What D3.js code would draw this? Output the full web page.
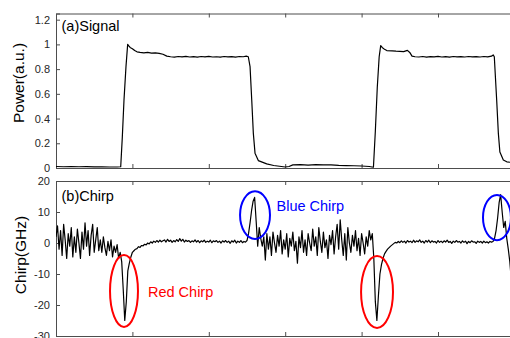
<!DOCTYPE html>
<html><head><meta charset="utf-8">
<script src="https://cdn.jsdelivr.net/npm/d3@7"></script>
<style>html,body{margin:0;padding:0;background:#fff;overflow:hidden}svg{display:block}</style>
</head><body>
<svg id="c" width="510" height="338"></svg>
<script>
// ---------- data ----------
const xTicks = [0, 1, 2, 3, 4, 5, 6];
const powerTicks = [0, 0.2, 0.4, 0.6, 0.8, 1, 1.2];
const powerTickLabels = ["0", "0.2", "0.4", "0.6", "0.8", "1", "1.2"];
const chirpTicks = [-30, -20, -10, 0, 10, 20];
const chirpTickLabels = ["-30", "-20", "-10", "0", "10", "20"];

const signalTime = [0,0.1,0.2,0.3,0.4,0.5,0.6,0.7,0.8,0.847,0.868,0.89,0.916,0.938,0.95,0.97,1.0,1.03,1.06,1.1,1.15,1.2,1.25,1.3,1.35,1.4,1.45,1.5,1.55,1.6,1.65,1.7,1.75,1.8,1.85,1.9,1.95,2.0,2.05,2.1,2.15,2.2,2.25,2.3,2.35,2.4,2.45,2.49,2.517,2.54,2.562,2.583,2.605,2.648,2.758,2.85,2.95,3.0,3.05,3.1,3.2,3.3,3.4,3.5,3.6,3.7,3.8,3.9,4.0,4.1,4.155,4.18,4.205,4.23,4.25,4.27,4.3,4.33,4.4,4.45,4.5,4.55,4.6,4.63,4.66,4.7,4.75,4.8,4.85,4.9,4.95,5.0,5.05,5.1,5.15,5.2,5.25,5.3,5.35,5.4,5.45,5.5,5.55,5.6,5.65,5.7,5.722,5.737,5.768,5.79,5.81,5.855,5.9,5.95,6.0];
const signalPower = [0.012,0.01,0.012,0.01,0.011,0.009,0.01,0.008,0.008,0.01,0.25,0.55,0.82,1.0,0.99,0.975,0.965,0.95,0.94,0.935,0.932,0.935,0.93,0.932,0.928,0.92,0.905,0.9,0.897,0.902,0.899,0.903,0.898,0.901,0.897,0.902,0.899,0.903,0.898,0.9,0.897,0.902,0.899,0.901,0.897,0.902,0.9,0.905,0.9,0.82,0.55,0.28,0.12,0.06,0.033,0.02,0.012,0.008,0.012,0.025,0.027,0.024,0.027,0.025,0.026,0.022,0.02,0.018,0.016,0.012,0.006,0.3,0.65,0.9,0.99,0.975,0.96,0.95,0.947,0.945,0.944,0.942,0.952,0.935,0.905,0.9,0.898,0.902,0.897,0.901,0.899,0.903,0.898,0.901,0.897,0.902,0.899,0.901,0.898,0.902,0.899,0.901,0.898,0.902,0.899,0.905,0.915,0.9,0.55,0.28,0.13,0.065,0.05,0.046,0.044];

const chirpStep = 0.02;
const chirpValues = [
  2,5.5,-2,4,-4,6,1,-5,3,-1,
  5,-4.5,2,-3,4.5,0,-5,3.5,-2,6.5,
  -1,4,-4,2.5,6,-3,1,5,-2.5,1,
  -3,2,-1.5,-4,0.5,-2.5,1,-4.5,-1,-3,
  -0.5,-5,-3,-6,-15,-25,-19,-9,-6.5,-4.5,
  -3,-2.5,-2,-1.8,-1.2,-1.4,-0.8,-0.9,-0.4,-0.6,
  0,-0.3,0.4,0,0.6,0.2,0.8,0.3,0.9,0.4,
  0.7,1.0,0.3,1.2,0.5,0.9,0.2,0.8,0.4,1.1,
  0.5,1.4,0.6,1.2,0.3,0.9,0.5,0.8,0.2,0.7,
  0.4,1.0,0.3,0.8,0.1,0.7,0.4,0.9,0.2,0.6,
  0.3,0.9,0.1,0.7,0.4,0.8,0.2,0.6,0.0,0.7,
  0.3,0.8,0.2,0.6,-0.1,0.7,0.3,0.9,0.0,0.6,
  0.2,0.8,0.1,0.5,0.3,0.8,3,6.5,10.5,13.5,
  14.7,7,-1,5,1.5,-1,2,-5.5,3,-2,
  2,-4,3.5,0,-3,2.5,-1,4,-3.5,1,
  -2,3,-4.5,1.5,-1,3.5,-2.5,0.5,-6.5,2,
  -1.5,4,-3,1,-4,3,0,-2.5,4.5,-1,
  2,-4,5,0.5,-3,3.5,-1.5,1,-5,2.5,
  -0.5,4,-3.5,2,6,-2,7.5,1,-4,3,
  -5.5,5,0,-3,2.5,-1,4,-2.5,1.5,-4,
  3,0,-3.5,2,-1,4,1,3,-5,-19,
  -25,-17,-10,-7,-5,-3.5,-2.7,-2,-1.5,-1,
  -0.6,-0.2,0.2,0,0.5,0.1,0.7,0.2,0.6,0.0,
  0.8,0.3,0.6,0.1,0.9,0.2,0.7,0.4,1.0,0.2,
  0.6,0.0,0.8,0.3,0.9,0.1,0.7,0.3,0.5,0.0,
  0.8,0.2,0.6,0.1,0.7,0.3,0.9,0.2,0.5,-0.1,
  0.6,0.2,0.8,0.3,0.5,0.0,0.7,0.2,0.6,-0.2,
  0.5,0.1,0.7,0.3,0.4,-0.1,0.6,0.2,0.5,0.0,
  0.6,0.1,0.4,0.0,0.5,0.3,0.5,1.5,4,8,
  13,15.6,10,5,7,1.5,-2,-6,-12,-8
];

// annotations (data units: time, GHz)
const ellipseColors = ["#ff0000", "#0000ff", "#ff0000", "#0000ff"];
const ellipseCenterT = [0.89, 2.605, 4.202, 5.772];
const ellipseCenterV = [-15.5, 9.0, -15.8, 8.2];
const ellipseRadiusT = [0.183, 0.196, 0.209, 0.183];
const ellipseRadiusV = [11.6, 7.7, 11.6, 7.3];
const noteTexts = ["Red Chirp", "Blue Chirp"];
const noteColors = ["#ff0000", "#0000ff"];
const noteT = [1.204, 2.886];
const noteV = [-17.4, 10.3];

// ---------- layout ----------
const svg = d3.select("#c");
const left = 56, right = 514.4;
const topPanel = {y0: 13.5, y1: 168};
const botPanel = {y0: 181, y1: 336};
const FONT = "'Liberation Sans', Arial, Helvetica, sans-serif";
const axisColor = "#4d4d4d";
const textColor = "#262626";

const x = d3.scaleLinear().domain([0, 6]).range([left, right]);
const yP = d3.scaleLinear().domain([0, 1.25]).range([topPanel.y1, topPanel.y0]);
const yC = d3.scaleLinear().domain([-30, 20]).range([botPanel.y1, botPanel.y0]);

function frame(y, panel, ticks, labels) {
  const g = svg.append("g");
  // left axis with labels
  const ax = d3.axisLeft(y).tickValues(ticks).tickFormat((d, i) => labels[i]).tickSize(-4).tickPadding(6);
  const ga = g.append("g").attr("transform", `translate(${left},0)`).call(ax);
  ga.select(".domain").attr("stroke", axisColor);
  ga.selectAll(".tick line").attr("stroke", axisColor);
  ga.selectAll(".tick text").attr("fill", textColor).style("font-family", FONT).style("font-size", "11px");
  // top & bottom x axes, no labels, inward ticks
  const xt = d3.axisTop(x).tickValues(xTicks).tickFormat("").tickSize(-4).tickSizeOuter(0);
  const gt = g.append("g").attr("transform", `translate(0,${panel.y0})`).call(xt);
  const xb = d3.axisBottom(x).tickValues(xTicks).tickFormat("").tickSize(-4).tickSizeOuter(0);
  const gb = g.append("g").attr("transform", `translate(0,${panel.y1})`).call(xb);
  [gt, gb].forEach(s => {
    s.select(".domain").attr("stroke", axisColor);
    s.selectAll(".tick line").attr("stroke", axisColor);
  });
}
frame(yP, topPanel, powerTicks, powerTickLabels);
frame(yC, botPanel, chirpTicks, chirpTickLabels);

// clip paths
const defs = svg.append("defs");
defs.append("clipPath").attr("id", "clipTop").append("rect")
  .attr("x", left).attr("y", topPanel.y0).attr("width", right - left).attr("height", topPanel.y1 - topPanel.y0);
defs.append("clipPath").attr("id", "clipBot").append("rect")
  .attr("x", left).attr("y", botPanel.y0).attr("width", right - left).attr("height", botPanel.y1 - botPanel.y0);

// signal trace
const sigData = signalTime.map((t, i) => [t, signalPower[i]]);
svg.append("path").datum(sigData).attr("clip-path", "url(#clipTop)")
  .attr("fill", "none").attr("stroke", "#000").attr("stroke-width", 1.2).attr("stroke-linejoin", "round")
  .attr("d", d3.line().x(d => x(d[0])).y(d => yP(d[1])));

// chirp trace
const chData = chirpValues.map((v, i) => [i * chirpStep, v]);
svg.append("path").datum(chData).attr("clip-path", "url(#clipBot)")
  .attr("fill", "none").attr("stroke", "#000").attr("stroke-width", 1.2).attr("stroke-linejoin", "round")
  .attr("d", d3.line().x(d => x(d[0])).y(d => yC(d[1])));

// ellipses
ellipseCenterT.forEach((t, i) => {
  svg.append("ellipse")
    .attr("cx", x(t)).attr("cy", yC(ellipseCenterV[i]))
    .attr("rx", x(t + ellipseRadiusT[i]) - x(t))
    .attr("ry", yC(ellipseCenterV[i] - ellipseRadiusV[i]) - yC(ellipseCenterV[i]))
    .attr("fill", "none").attr("stroke", ellipseColors[i]).attr("stroke-width", 2);
});

// annotation texts
noteTexts.forEach((s, i) => {
  svg.append("text").attr("x", x(noteT[i])).attr("y", yC(noteV[i]))
    .attr("fill", noteColors[i]).style("font-family", FONT).style("font-size", "14.5px").text(s);
});

// panel labels
svg.append("text").attr("x", left + 5.5).attr("y", 31).attr("fill", "#000")
  .style("font-family", FONT).style("font-size", "14.5px").text("(a)Signal");
svg.append("text").attr("x", left + 5.5).attr("y", 201).attr("fill", "#000")
  .style("font-family", FONT).style("font-size", "14.5px").text("(b)Chirp");

// y-axis titles
svg.append("text").attr("transform", `translate(24,83) rotate(-90)`).attr("text-anchor", "middle")
  .attr("fill", "#000").style("font-family", FONT).style("font-size", "15.5px").text("Power(a.u.)");
svg.append("text").attr("transform", `translate(26,255) rotate(-90)`).attr("text-anchor", "middle")
  .attr("fill", "#000").style("font-family", FONT).style("font-size", "15.5px").text("Chirp(GHz)");
</script>
</body></html>
